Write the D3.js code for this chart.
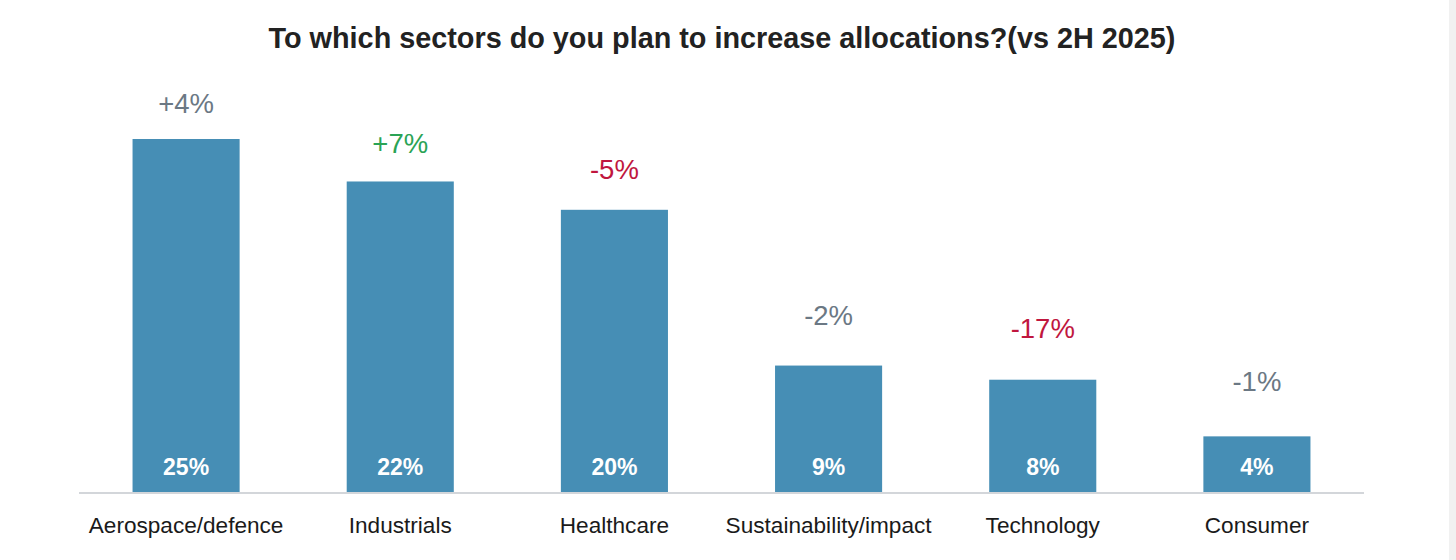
<!DOCTYPE html>
<html>
<head>
<meta charset="utf-8">
<script src="https://cdn.jsdelivr.net/npm/d3@7"></script>
<style>
  body { margin: 0; background: #ffffff; }
  #chart { width: 1456px; height: 560px; }
</style>
</head>
<body>
<div id="chart"></div>
<script>

// data
var sectors = ['Aerospace/defence', 'Industrials', 'Healthcare', 'Sustainability/impact', 'Technology', 'Consumer'];
var shares = [25, 22, 20, 9, 8, 4];
var changes = ['+4%', '+7%', '-5%', '-2%', '-17%', '-1%'];
var change_tone = ['flat', 'up', 'down', 'flat', 'down', 'flat'];

var toneColor = {'flat': '#6b7884', 'up': '#2aa355', 'down': '#c0163e'};

var width = 1456, height = 560;

var svg = d3.select('#chart')
    .append('svg')
    .attr('width', width)
    .attr('height', height);

// grey strip on the right edge
svg.append('rect')
    .attr('x', 1449)
    .attr('y', 0)
    .attr('width', 7)
    .attr('height', height)
    .style('fill', '#f1f1f1');

svg.append('text')
    .text('To which sectors do you plan to increase allocations?(vs 2H 2025)')
    .attr('x', 722)
    .attr('y', 48)
    .attr('text-anchor', 'middle')
    .attr('font-family', 'Liberation Sans, Arial, sans-serif')
    .attr('font-weight', 'bold')
    .attr('font-size', 28.8)
    .style('fill', '#222222');

var x = d3.scaleBand()
    .domain(sectors)
    .range([79, 1364])
    .paddingInner(0.5)
    .paddingOuter(0.25);

var y = d3.scaleLinear().domain([0, 25]).range([493, 139]);

// the change labels sit on their own slope, a bit closer for tall bars
var yLabel = d3.scaleLinear().domain([0, 25]).range([444, 113]);

var bars = svg.selectAll('.bar')
    .data(sectors)
    .enter()
    .append('g')
    .attr('class', 'bar');

bars.append('rect')
    .attr('x', function(d){ return x(d) })
    .attr('y', function(d, i){ return y(shares[i]) })
    .attr('width', x.bandwidth())
    .attr('height', function(d, i){ return y(0) - y(shares[i]) })
    .style('fill', '#468eb5');

bars.append('text')
    .text(function(d, i){ return shares[i] + '%' })
    .attr('x', function(d){ return x(d) + x.bandwidth() / 2 })
    .attr('y', 475)
    .attr('text-anchor', 'middle')
    .attr('font-family', 'Liberation Sans, Arial, sans-serif')
    .attr('font-weight', 'bold')
    .attr('font-size', 23)
    .style('fill', '#ffffff');

bars.append('text')
    .text(function(d, i){ return changes[i] })
    .attr('x', function(d){ return x(d) + x.bandwidth() / 2 })
    .attr('y', function(d, i){ return yLabel(shares[i]) })
    .attr('text-anchor', 'middle')
    .attr('font-family', 'Liberation Sans, Arial, sans-serif')
    .attr('font-size', 27.5)
    .style('fill', function(d, i){ return toneColor[change_tone[i]] });

// category axis
var xAxis = svg.append('g')
    .attr('transform', 'translate(0,' + y(0) + ')')
    .call(d3.axisBottom(x).tickSize(0).tickPadding(0));

xAxis.select('.domain')
    .attr('d', 'M79,0H1364')
    .style('stroke', '#d3d6da')
    .style('stroke-width', 2);

xAxis.selectAll('text')
    .attr('y', 40)
    .attr('dy', 0)
    .attr('font-family', 'Liberation Sans, Arial, sans-serif')
    .attr('font-size', 22.6)
    .style('fill', '#1a1a1a');

</script>
</body>
</html>
